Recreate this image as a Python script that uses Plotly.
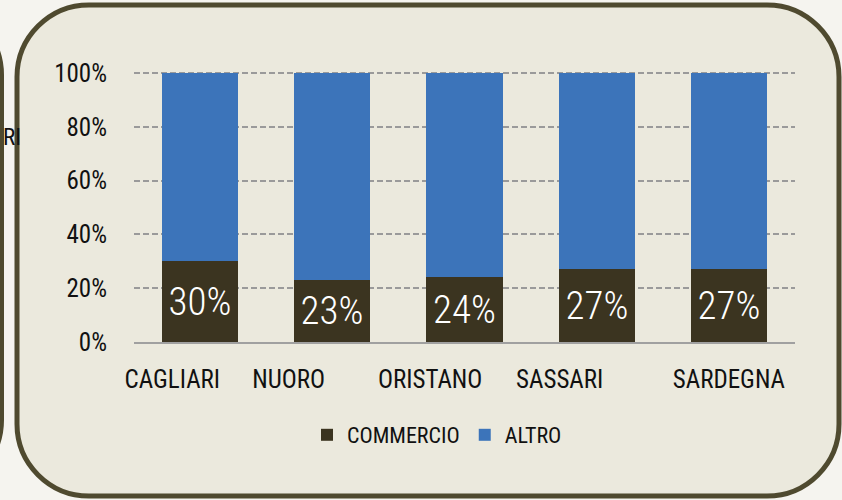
import plotly.graph_objects as go

# Share of COMMERCIO vs everything else, by province
categories = ["CAGLIARI", "NUORO", "ORISTANO", "SASSARI", "SARDEGNA"]
commercio = [30, 23, 24, 27, 27]
altro = [100 - v for v in commercio]
y_ticks = [0, 20, 40, 60, 80, 100]
y_tick_labels = [f"{v}%" for v in y_ticks]

# styling
FONT = "Roboto Condensed, DejaVu Sans Condensed, sans-serif"
C_COMM = "#3b3420"
C_ALTRO = "#3c74ba"
PANEL_FILL = "#ebe9dd"
PANEL_LINE = "#4f4a2f"
PAGE_BG = "#f5f4ef"
LABEL_SHIFT = [-0.21, -0.33, -0.26, -0.28, 0.0]
BAR_W = 0.575
Y_TOP = 100.4

W, H = 842, 500
ML, MR, MT, MB = 134, 47, 72, 158
PW, PH = W - ML - MR, H - MT - MB


def px(x):
    return (x - ML) / PW


def py(y):
    return (H - MB - y) / PH


def rounded_rect(x0, y0, x1, y1, r):
    k = 0.5523 * r
    pts = [
        ("M", [(x0 + r, y0)]),
        ("L", [(x1 - r, y0)]),
        ("C", [(x1 - r + k, y0), (x1, y0 + r - k), (x1, y0 + r)]),
        ("L", [(x1, y1 - r)]),
        ("C", [(x1, y1 - r + k), (x1 - r + k, y1), (x1 - r, y1)]),
        ("L", [(x0 + r, y1)]),
        ("C", [(x0 + r - k, y1), (x0, y1 - r + k), (x0, y1 - r)]),
        ("L", [(x0, y0 + r)]),
        ("C", [(x0, y0 + r - k), (x0 + r - k, y0), (x0 + r, y0)]),
    ]
    s = ""
    for cmd, ps in pts:
        s += cmd + " ".join(f"{px(a):.5f},{py(b):.5f}" for a, b in ps) + " "
    return s + "Z"


xs = list(range(len(categories)))

fig = go.Figure()
fig.add_bar(
    x=xs, y=commercio, name="COMMERCIO", width=BAR_W,
    marker=dict(color=C_COMM, line=dict(width=0)),
    text=[f"{v}%" for v in commercio], textposition="inside",
    insidetextanchor="middle", constraintext="none", textangle=0,
    textfont=dict(color="white", size=39, family=FONT, weight=300),
    hovertext=categories, hoverinfo="text+y",
)
fig.add_bar(
    x=xs, y=altro, name="ALTRO", width=BAR_W,
    marker=dict(color=C_ALTRO, line=dict(width=0)),
    hovertext=categories, hoverinfo="text+y",
)

shapes = [
    dict(type="path", xref="paper", yref="paper", layer="below",
         path=rounded_rect(-300, 5, 1.5, 490, 70),
         fillcolor=PANEL_FILL, line=dict(color=PANEL_LINE, width=5)),
    dict(type="path", xref="paper", yref="paper", layer="below",
         path=rounded_rect(17, 5, 839, 496, 72),
         fillcolor=PANEL_FILL, line=dict(color=PANEL_LINE, width=5)),
]

fig.update_layout(
    width=W, height=H,
    margin=dict(l=ML, r=MR, t=MT, b=MB, pad=0),
    paper_bgcolor=PAGE_BG, plot_bgcolor="rgba(0,0,0,0)",
    barmode="stack", bargap=0,
    font=dict(family=FONT, color="#111111", size=25, weight=400),
    shapes=shapes,
    showlegend=True,
    legend=dict(orientation="h", x=px(437), xanchor="center",
                y=py(435), yanchor="middle", traceorder="normal",
                itemwidth=30, bgcolor="rgba(0,0,0,0)",
                font=dict(size=22, family=FONT)),
    annotations=[dict(text="RI", xref="paper", yref="paper",
                      x=px(0.5), y=py(137), xanchor="left", yanchor="middle",
                      showarrow=False, font=dict(size=23, family=FONT))],
    xaxis=dict(
        range=[-0.5, len(categories) - 0.5],
        tickvals=[i + s for i, s in zip(xs, LABEL_SHIFT)],
        ticktext=categories, ticks="", showgrid=False, zeroline=False,
        showline=True, linecolor="#a0a0a0", linewidth=2,
        ticklabelstandoff=14, tickfont=dict(size=25),
    ),
    yaxis=dict(
        range=[0, Y_TOP], tickvals=y_ticks, ticktext=y_tick_labels,
        showgrid=True, gridcolor="#9a9a9a", gridwidth=1.5, griddash="6px,3px",
        zeroline=False, showline=False, ticks="",
        ticklabelstandoff=26, tickfont=dict(size=25),
    ),
)

fig.write_html("out.html")
